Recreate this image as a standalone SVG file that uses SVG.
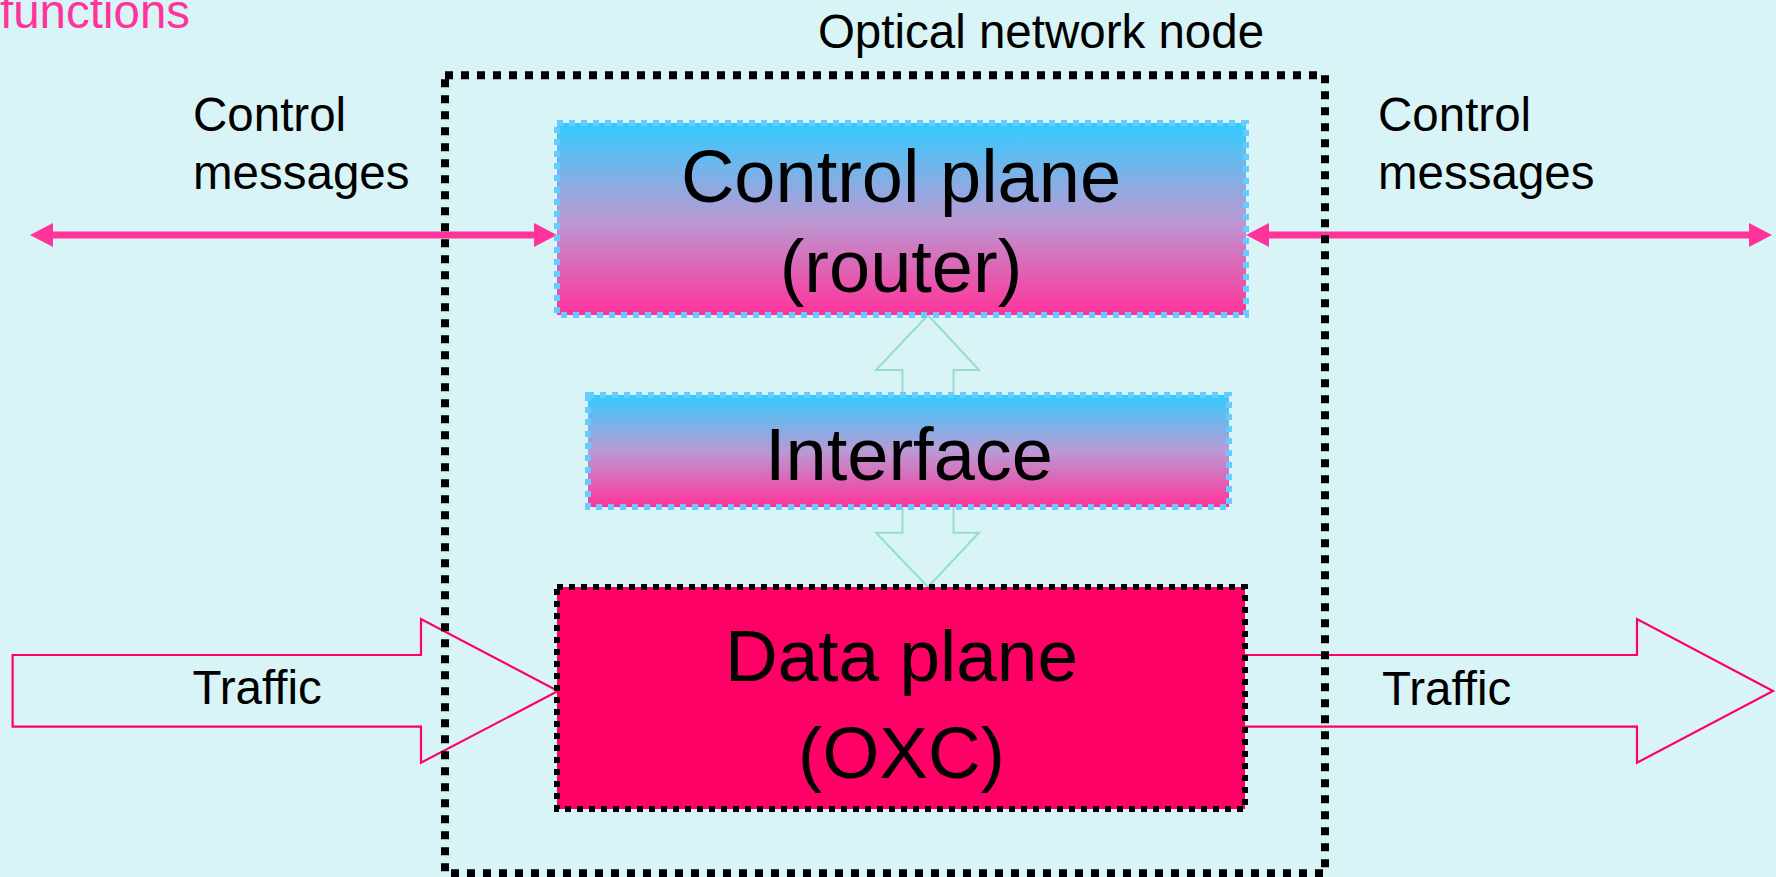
<svg xmlns="http://www.w3.org/2000/svg" width="1776" height="877" viewBox="0 0 1776 877">
<style>
text{font-family:"Liberation Sans",Arial,sans-serif;fill:#000}
.small{font-size:47.5px}
.big{font-size:74px}
.mid{text-anchor:middle}
.grad{fill:url(#g);stroke:#66CCFF;stroke-width:6;stroke-dasharray:6 6}
.traffic{fill:none;stroke:#FF0066;stroke-width:2.2;stroke-linejoin:miter}
.ctrl{stroke:#FF3399;stroke-width:7;fill:none}
</style>
<defs>
<linearGradient id="g" x1="0" y1="0" x2="0" y2="1">
<stop offset="0" stop-color="#33CCFF"/>
<stop offset="0.5" stop-color="#B99AD4"/>
<stop offset="1" stop-color="#FF3399"/>
</linearGradient>
<marker id="ah" viewBox="0 0 23 24" refX="23" refY="12" markerWidth="23" markerHeight="24" markerUnits="userSpaceOnUse" orient="auto-start-reverse">
<path d="M0,0 L23,12 L0,24 z" fill="#FF3399"/>
</marker>
</defs>
<rect x="0" y="0" width="1776" height="877" fill="#D9F4F7"/>
<text class="small" x="0" y="28" style="fill:#FF3399">functions</text>
<text class="small mid" x="1041" y="47.6">Optical network node</text>

<g id="connectors">
<polygon class="traffic" points="12.6,655 421,655 421,619 558,691 421,762.7 421,726.7 12.6,726.7"/>
<polyline class="traffic" points="1244,655 1637,655 1637,619 1773,691 1637,762.7 1637,726.7 1244,726.7"/>
<line class="ctrl" x1="30" y1="235" x2="557" y2="235" marker-start="url(#ah)" marker-end="url(#ah)" stroke-dasharray="0 10 507 10"/>
<line class="ctrl" x1="1246" y1="235" x2="1772" y2="235" marker-start="url(#ah)" marker-end="url(#ah)" stroke-dasharray="0 10 506 10"/>
<polygon points="928,315 979,370 953.5,370 953.5,532.7 979,532.7 928,587 876,532.7 902.5,532.7 902.5,370 876,370" fill="none" stroke="#95DEC9" stroke-width="2"/>
</g>

<g id="optical-node">
<rect x="445" y="75.3" width="880" height="798" fill="none" stroke="#000" stroke-width="8" stroke-dasharray="8 8"/>
</g>

<g id="control-plane">
<rect class="grad" x="557" y="123" width="689" height="192"/>
<text class="big mid" x="901" y="201.7">Control plane</text>
<text class="big mid" x="901" y="291.7">(router)</text>
</g>

<g id="interface">
<rect class="grad" x="588" y="395" width="641" height="112"/>
<text class="big mid" x="909" y="480">Interface</text>
</g>

<g id="data-plane">
<rect x="557" y="587" width="688" height="222" fill="#FF0066" stroke="#000" stroke-width="6" stroke-dasharray="6 6"/>
<text class="big mid" x="901.5" y="681" style="font-size:73px">Data plane</text>
<text class="big mid" x="901.5" y="778" style="font-size:73px">(OXC)</text>
</g>

<g id="labels">
<text class="small" x="193" y="131">Control</text>
<text class="small" x="193" y="189">messages</text>
<text class="small" x="1378" y="131">Control</text>
<text class="small" x="1378" y="189">messages</text>
<text class="small" x="192.5" y="704">Traffic</text>
<text class="small" x="1382" y="705">Traffic</text>
</g>
</svg>
